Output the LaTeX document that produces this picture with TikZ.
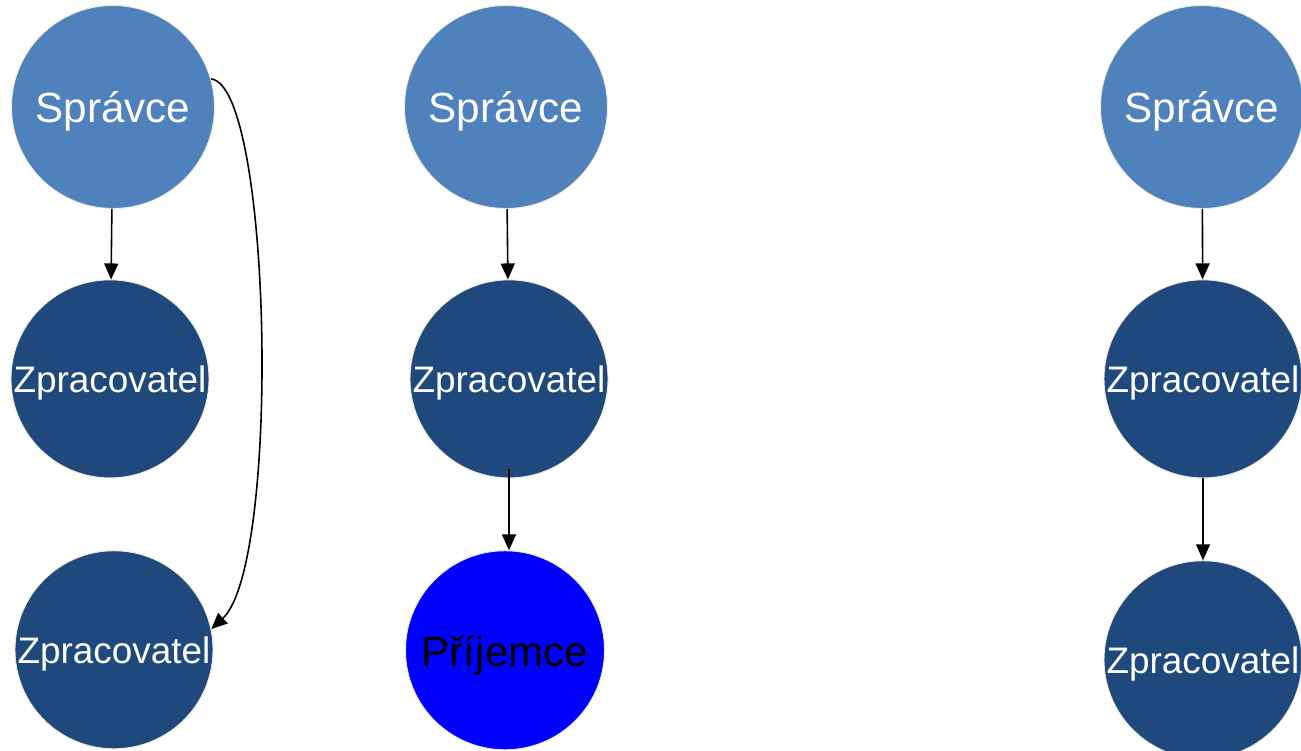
\documentclass[tikz,border=0pt]{standalone}
\usepackage{fontspec}
\setmainfont{Liberation Sans}
\usepackage{tikz}
\usetikzlibrary{arrows.meta, positioning}
\definecolor{spravceblue}{HTML}{4F81BD}
\definecolor{zpracblue}{HTML}{1F497D}
\definecolor{rimbeige}{HTML}{EEECE1}

\begin{document}
\begin{tikzpicture}[
        party/.style={circle, draw=rimbeige, line width=0.5pt, inner sep=0pt, text depth=0pt},
        spravce/.style={party, fill=spravceblue, minimum size=4.06cm, text=white, text height=18pt, font=\fontsize{24}{28}\selectfont},
        zprac/.style={party, fill=zpracblue, minimum size=3.96cm, text=white, text height=15.5pt, font=\fontsize{21}{25}\selectfont},
        prijemce/.style={party, fill=blue, minimum size=3.98cm, text=black, text height=18pt, font=\fontsize{24}{28}\selectfont},
        arrow/.style={-{Triangle[length=0.32cm, width=0.28cm]}, line width=0.9pt, color=black}
    ]
    \useasboundingbox (0,0) rectangle (26.02,-15);
    % first column
    \node [spravce] (s1) at (2.26,-2.14) {Správce};
    \node [zprac, below=1.41cm of s1, xshift=-0.06cm] (z1) {Zpracovatel};
    \node [zprac, below=1.44cm of z1, xshift=0.08cm] (z1b) {Zpracovatel};
    \draw [arrow] (s1) -- (z1);
    \draw [arrow] (s1.16) .. controls +(1.22,-0.12) and +(1.4,1.3) .. (z1b.12);
    % second column
    \node [spravce] (s2) at (10.12,-2.14) {Správce};
    \node [zprac, below=1.41cm of s2, xshift=0.06cm] (z2) {Zpracovatel};
    \node [prijemce, below=1.44cm of z2, xshift=-0.08cm] (p2) {Příjemce};
    \draw [arrow] (s2) -- (z2);
    \draw [arrow, shorten <=-0.18cm] (z2.south) -- (z2.south |- p2.north);
    % third column
    \node [spravce] (s3) at (24.04,-2.14) {Správce};
    \node [zprac, below=1.41cm of s3, xshift=0.02cm] (z3) {Zpracovatel};
    \node [zprac, below=1.64cm of z3] (z3b) {Zpracovatel};
    \draw [arrow] (s3) -- (z3);
    \draw [arrow] (z3) -- (z3b);
\end{tikzpicture}
\end{document}
